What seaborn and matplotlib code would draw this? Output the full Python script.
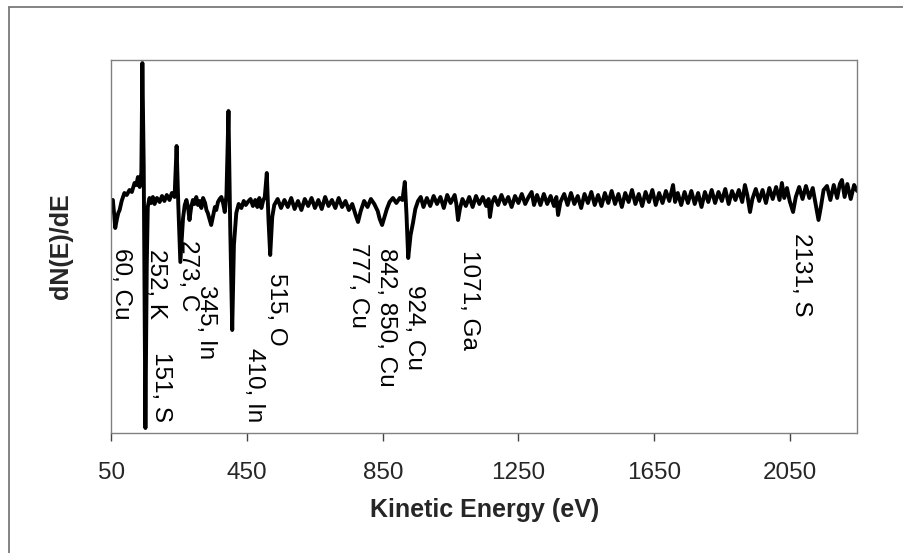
import matplotlib
matplotlib.use("Agg")
import matplotlib.pyplot as plt
from matplotlib.lines import Line2D
import numpy as np
import pandas as pd
import seaborn as sns

# ---- data (kinetic energy in eV, dN(E)/dE in arbitrary units) ----
energy_low = [50, 54, 58, 61, 66, 70, 74, 80, 88, 95, 103, 110, 118, 123, 128, 133, 138, 141, 145, 150,
              154, 157, 162, 167, 172, 177, 184, 192, 199, 206, 213, 221, 228, 236, 242, 247, 253, 258, 261, 266,
              271, 276, 280, 285, 290, 295, 300, 305, 310, 315, 320, 326, 330, 334, 339, 344, 350, 355, 359, 364,
              369, 374, 379, 384, 389, 395, 400, 406, 411, 418, 425, 433, 440, 446, 452, 460, 467, 474, 480, 486,
              492, 497, 502, 508, 513, 518, 524]
signal_low = [5, 5, -10, -23, -14, -8, -5, 4, 12, 10, 15, 13, 22, 20, 28, 18, 32, 142, 40, -223,
              -60, -2, 7, 2, 8, 1, 7, 3, 9, 4, 10, 5, 12, 8, 59, 0, -57, -30, -13, 0,
              5, -3, -15, -2, 5, 1, 8, 0, 4, -3, 7, 2, -5, -8, -14, -20, -10, -2, -5, 3,
              6, 8, 2, -7, 10, 94, -20, -125, -40, -8, 1, -3, 4, 0, 3, 6, -1, 5, -2, 7,
              -3, 4, 8, 32, -15, -50, -12]

energy_mid1 = [530, 540, 550, 560, 570, 580, 590, 600, 610, 620, 630, 640, 650, 660, 670, 680, 690, 700, 710, 720,
               730, 740, 750, 760, 770, 777, 785, 795, 805, 815, 825, 835, 841, 848, 855, 862, 870, 880, 890, 900]
signal_mid1 = [0, 6, -3, 5, -2, 7, -4, 4, -5, 6, -1, 7, -3, 5, -4, 8, -1, 5, -3, 7,
               -2, 4, -5, 1, -10, -17, -6, 4, -2, 6, 1, -6, -14, -20, -12, -4, 3, 7, 2, 7]

energy_mid2 = [908, 915, 920, 925, 932, 939, 946, 954, 962, 970, 980, 990, 1000, 1010, 1020, 1030, 1040, 1050,
               1062, 1067, 1072, 1078, 1085, 1095, 1105, 1115, 1125, 1135, 1145, 1155, 1162, 1166, 1172, 1180,
               1190, 1200, 1210, 1220, 1230, 1240, 1250, 1260, 1270, 1280, 1289, 1296]
signal_mid2 = [5, 23, -10, -53, -30, -18, -4, 4, 8, -2, 7, -1, 9, 1, 8, -3, 10, 2,
               10, 1, -15, -3, 6, -1, 8, -2, 9, 1, 8, -1, 6, -12, 2, 8,
               0, 10, 1, 8, -2, 9, 2, 11, 1, 8, 13, 0]

energy_high = [1305, 1315, 1325, 1335, 1345, 1355, 1362, 1367, 1374, 1385, 1395, 1405, 1415, 1425, 1435, 1445,
               1455, 1465, 1475, 1485, 1495, 1505, 1515, 1525, 1535, 1545, 1555, 1565, 1575, 1585, 1595, 1605,
               1615, 1625, 1635, 1645, 1655, 1665, 1675, 1685, 1695, 1706, 1712, 1720, 1730, 1740, 1750, 1760,
               1770, 1780, 1790, 1800, 1810, 1820, 1830, 1840, 1850, 1860, 1870, 1880, 1890, 1900, 1910, 1918,
               1925, 1933, 1940, 1950, 1960, 1970, 1980, 1990, 2000, 2010, 2020, 2027, 2034, 2042, 2050, 2060,
               2068, 2078, 2088, 2098, 2108, 2118, 2126, 2135, 2142, 2150, 2160, 2170, 2180, 2190, 2198, 2204,
               2212, 2220, 2230, 2240, 2249]
signal_high = [10, 0, 11, 1, 9, -1, 8, -10, 3, 11, 0, 12, 1, 9, -3, 11,
               2, 13, 0, 10, -1, 12, 2, 14, 1, 11, -2, 12, 3, 15, 1, 11,
               -1, 13, 3, 15, 0, 12, 2, 14, 4, 20, 3, 12, 0, 13, 2, 14,
               1, 12, -2, 13, 3, 15, 2, 13, 4, 16, 1, 14, 5, 15, 3, 20,
               10, -7, 6, 16, 4, 15, 2, 17, 6, 18, 5, 22, 7, 17, 4, -7,
               8, 18, 6, 19, 7, 17, 2, -15, -2, 15, 19, 5, 20, 7, 21, 25,
               8, 21, 6, 20, 14]

peak_labels = ["60, Cu", "252, K", "151, S", "273, C", "345, In", "410, In", "515, O",
               "777, Cu", "842, 850, Cu", "924, Cu", "1071, Ga", "2131, S"]
label_energy = [60, 163, 178, 258, 311, 452, 517, 759, 842, 924, 1086, 2065]
label_level = [-43, -44, -147, -35, -80, -143, -68, -38, -43, -80, -45, -28]

x_ticks = [50, 450, 850, 1250, 1650, 2050]

# ---- build table ----
df = pd.DataFrame({
    "energy": energy_low + energy_mid1 + energy_mid2 + energy_high,
    "signal": signal_low + signal_mid1 + signal_mid2 + signal_high,
})

sns.set_theme(style="white")
plt.rcParams["font.family"] = ["Liberation Sans", "DejaVu Sans"]

W, H = 904, 553
fig = plt.figure(figsize=(W / 100, H / 100), dpi=100)
fig.patch.set_facecolor("white")
left, right, top, bottom = 111.5, 857.5, 59.5, 432.5
ax = fig.add_axes([left / W, 1 - bottom / H, (right - left) / W, (bottom - top) / H])

sns.lineplot(data=df, x="energy", y="signal", ax=ax, color="black", linewidth=2.8,
             estimator=None, sort=False)

ax.set_xlim(50, 2250)
ax.set_ylim(-227.5, 145.5)
ax.set_xticks(x_ticks)
ax.set_xticklabels([str(t) for t in x_ticks], fontsize=17.5)
ax.set_yticks([])
ax.tick_params(axis="x", direction="out", length=6, width=1, color="#444444", pad=15, bottom=True)

for sp in ax.spines.values():
    sp.set_visible(True)
    sp.set_color("#808080")
    sp.set_linewidth(1.0)
    sp.set_linestyle((0, (1, 1)))

ax.set_xlabel("Kinetic Energy (eV)", fontsize=18, fontweight="bold")
ax.xaxis.set_label_coords(0.5, -0.175)
ax.xaxis.label.set_va("top")
ax.set_ylabel("dN(E)/dE", fontsize=18, fontweight="bold")
ax.yaxis.set_label_coords(-0.052, 0.5)

for txt, ex, ly in zip(peak_labels, label_energy, label_level):
    ax.text(ex, ly, txt, rotation=270, rotation_mode="anchor", ha="left", va="baseline",
            fontsize=17.5, color="black")

# outer frame (partially visible, top and left)
fy = 1 - 6.7 / H
fx = 8.5 / W
fig.add_artist(Line2D([fx, 1.0], [fy, fy], transform=fig.transFigure, color="#7a7a7a", lw=1.3))
fig.add_artist(Line2D([fx, fx], [0.0, fy], transform=fig.transFigure, color="#7a7a7a", lw=1.3))

fig.savefig("out.png", dpi=100, facecolor="white")
